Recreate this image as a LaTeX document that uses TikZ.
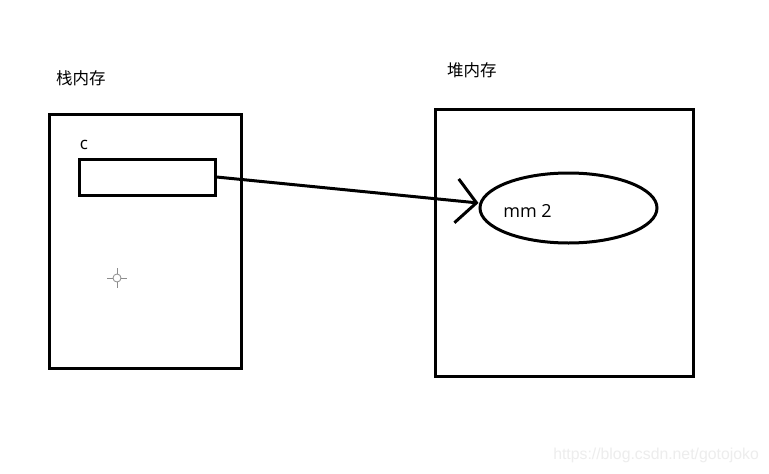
\documentclass[tikz,border=0pt]{standalone}
\usepackage{fontspec}
\setmainfont{Open Sans}
\newfontfamily\cjk{Noto Sans CJK SC}
\newfontfamily\wmfont{Liberation Sans}
\usetikzlibrary{arrows.meta,shapes.geometric}
\begin{document}
\begin{tikzpicture}[x=1pt,y=-1pt,
  box/.style={draw=black,line width=3pt,inner sep=0pt},
  lbl/.style={inner sep=0pt,font=\cjk\fontsize{16.5}{18}\selectfont},
  ptr/.style={draw=black,line width=3pt,-{Straight Barb[length=20pt,width=44pt,line width=3pt]}},
  cursor/.style={draw=black!45,line width=0.8pt}]
\useasboundingbox[fill=white] (0,0) rectangle (769,474);
% stack
\node[lbl,anchor=west] (stacklbl) at (56,78) {栈内存};
\node[box,minimum width=192pt,minimum height=254pt] (stack) at (145,241) {};
\node[inner sep=0pt,font=\fontsize{17}{19}\selectfont] (clbl) at (84,145) {c};
\node[box,minimum width=136pt,minimum height=36pt] (var) at (147,177) {};
% heap
\node[lbl,anchor=west] (heaplbl) at (447,70) {堆内存};
\node[box,minimum width=258pt,minimum height=267pt] (heap) at (564,242.5) {};
\node[box,ellipse,minimum width=177pt,minimum height=70pt] (obj) at (568.5,208) {};
\node[inner sep=0pt,font=\fontsize{18}{20}\selectfont] (objlbl) at (527.5,211) {mm 2};
% pointer
\draw[ptr] (var.east) -- ([yshift=5pt]obj.west);
% cursor artifact
\coordinate (cur) at (117,278);
\draw[cursor] (cur) circle (4pt);
\draw[cursor] (107,278) -- (113,278) (121,278) -- (127,278) (117,268) -- (117,274) (117,282) -- (117,288);
% watermark
\node[inner sep=0pt,anchor=east,text=black!7,font=\wmfont\fontsize{15.8}{18}\selectfont] (wm) at (759,455) {https://blog.csdn.net/gotojoko};
\end{tikzpicture}
\end{document}
